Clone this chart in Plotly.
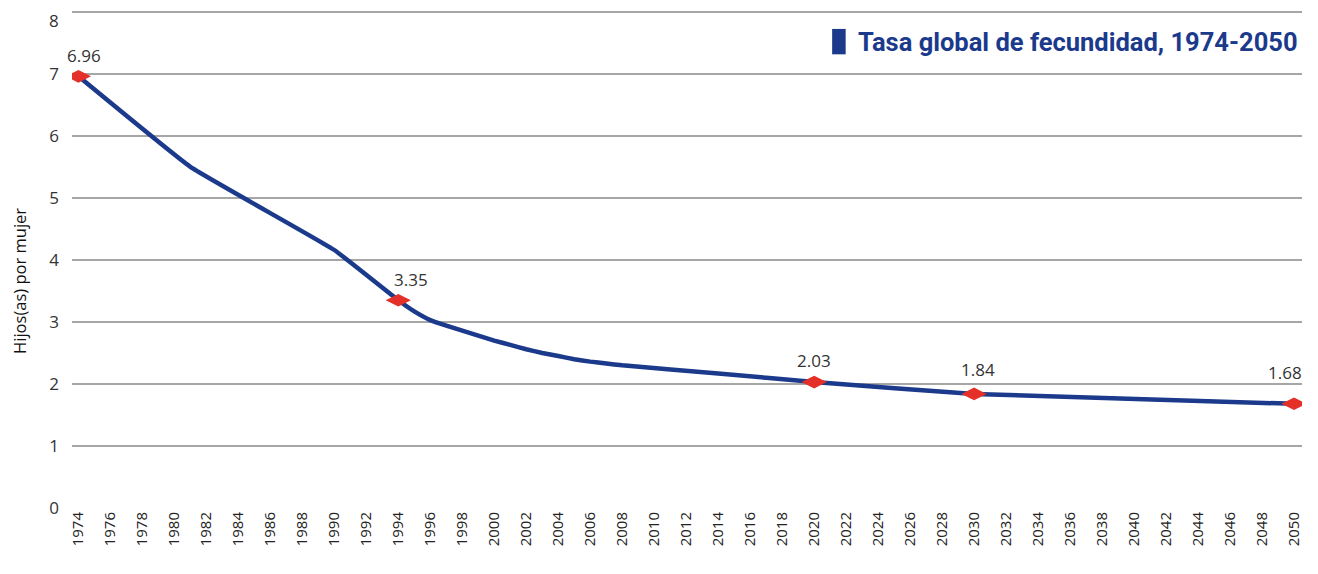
import plotly.graph_objects as go

years = [1974, 1981, 1990, 1994, 1995, 1996, 1997, 1998, 1999, 2000, 2001, 2002,
         2003, 2004, 2005, 2006, 2007, 2008, 2014, 2020, 2030, 2050]
tfr = [6.96, 5.50, 4.16, 3.35, 3.17, 3.03, 2.94, 2.86, 2.78, 2.70, 2.63, 2.56,
       2.50, 2.45, 2.40, 2.36, 2.33, 2.30, 2.17, 2.03, 1.84, 1.68]

marker_years = [1974, 1994, 2020, 2030, 2050]
marker_vals = [6.96, 3.35, 2.03, 1.84, 1.68]
marker_labels = ["6.96", "3.35", "2.03", "1.84", "1.68"]

x_ticks = list(range(1974, 2051, 2))
y_ticks = [0, 1, 2, 3, 4, 5, 6, 7, 8]

BLUE = "#1b3a8c"
RED = "#e5302a"
FONT = "Open Sans"

fig = go.Figure()
fig.add_trace(go.Scatter(x=years, y=tfr, mode="lines",
                         line=dict(color=BLUE, width=4.5, shape="spline", smoothing=0.3),
                         hoverinfo="skip", showlegend=False))
fig.add_trace(go.Scatter(x=marker_years, y=marker_vals, mode="markers",
                         marker=dict(symbol="diamond-wide", size=18, color=RED),
                         showlegend=False))

label_dx = [6, 13, 0, 4, -9]
label_dy = [21, 21, 22, 24, 31]
for xv, yv, t, dx, dy in zip(marker_years, marker_vals, marker_labels, label_dx, label_dy):
    fig.add_annotation(x=xv, y=yv, text=t, showarrow=False, yshift=dy, xshift=dx,
                       font=dict(family=FONT, size=17, color="#333333"))

fig.add_annotation(xref="paper", yref="paper", x=0.998, y=0.935, xanchor="right", yanchor="middle",
                   text="<b>Tasa global de fecundidad, 1974-2050</b>", showarrow=False,
                   font=dict(family="Roboto", size=25.5, color=BLUE))
fig.add_shape(type="rect", xref="paper", yref="paper", x0=0.618, x1=0.629, y0=0.911, y1=0.962,
              fillcolor=BLUE, line=dict(width=0))

fig.add_annotation(xref="paper", yref="paper", x=-0.0423, y=0.456, xanchor="center", yanchor="middle",
                   text="Hijos(as) por mujer", textangle=-90, showarrow=False,
                   font=dict(family=FONT, size=16.5, color="#111111"))

# top tick label drawn as annotation so that it stays inside the page
y_ticktext = [str(v) for v in y_ticks]
fig.add_annotation(xref="paper", yref="paper", x=0, y=1, xanchor="right", yanchor="top",
                   text=y_ticktext[-1], showarrow=False, xshift=-12, yshift=2, borderpad=0,
                   font=dict(family=FONT, size=17, color="#333333"))
y_ticktext[-1] = ""

fig.update_xaxes(range=[1973.6, 2050.5], tickmode="array", tickvals=x_ticks,
                 ticktext=[str(v) for v in x_ticks], tickangle=-90, showgrid=False,
                 zeroline=False, showline=False, ticks="", automargin=False,
                 ticklabeloverflow="allow",
                 tickfont=dict(family=FONT, size=15, color="#222222"))
fig.update_yaxes(range=[0, 8.03], tickmode="array", tickvals=y_ticks, ticktext=y_ticktext,
                 showgrid=True, gridcolor="#a6a6a6", gridwidth=1.5, zeroline=False,
                 showline=False, ticks="", ticklabelstandoff=12, automargin=False,
                 ticklabeloverflow="allow",
                 tickfont=dict(family=FONT, size=17, color="#333333"))

fig.update_layout(width=1318, height=574, plot_bgcolor="white", paper_bgcolor="white",
                  margin=dict(l=64, r=24, t=2, b=74), showlegend=False)

fig.write_html("out.html")
